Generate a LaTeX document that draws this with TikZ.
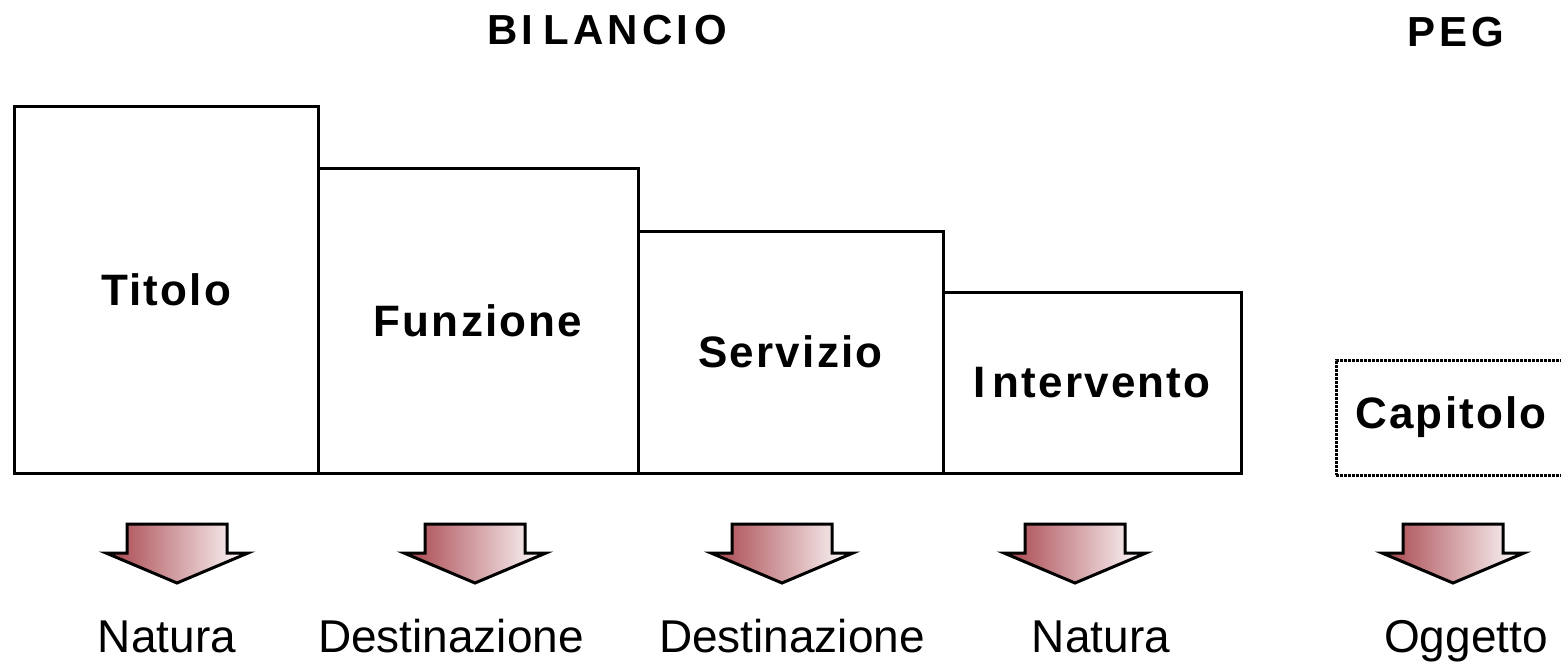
\documentclass[tikz,border=0pt]{standalone}
\usepackage{fontspec}
\setmainfont{Liberation Sans}
\newfontfamily\spacedfont[LetterSpace=5]{Liberation Sans}
\newfontfamily\headfont[LetterSpace=10]{Liberation Sans}
\usepackage{tikz}
\usepackage{xcolor}
\usetikzlibrary{positioning}
\definecolor{arrowred}{HTML}{A6424A}
\definecolor{arrowpink}{HTML}{D8BCC0}

\begin{document}
\begin{tikzpicture}[x=1pt,y=-1pt,
  voce/.style={draw,line width=3pt,inner sep=0pt,outer sep=0pt,anchor=south west,
    font=\fontsize{44}{46}\selectfont\spacedfont\bfseries},
  intestazione/.style={anchor=base,font=\fontsize{42}{46}\selectfont\headfont\bfseries},
  freccia/.style={draw,line width=3pt,line join=miter,
    left color=arrowred,middle color=arrowpink,right color=white},
  etichetta/.style={anchor=base,font=\fontsize{46}{50}\selectfont}]
\clip (0,0) rectangle (1561,664);
% headings
\node[intestazione] (bilancio) at (607,44) {BI\kern10pt LANCI\kern6pt O};
\node[intestazione] (peg) at (1456,46) {PEG};
% the four levels of the budget
\node[voce,minimum width=304,minimum height=367] (titolo) at (14,473) {Titolo};
\node[voce,minimum width=320,minimum height=305] (funzione) at (titolo.south east) {Funzione};
\node[voce,minimum width=305,minimum height=242] (servizio) at (funzione.south east) {Servizio};
\node[voce,minimum width=298,minimum height=181] (intervento) at (servizio.south east) {I\kern7pt ntervento};
\node[voce,densely dotted,minimum width=230,minimum height=115] (capitolo) at (1336,475) {Capitolo};
% arrows
\foreach \xa in {177,475,782,1075,1453}
  {\draw[freccia] ({\xa-50},524) -- ++(100,0) -- ++(0,29) -- ++(21,0)
     -- (\xa,583) -- ({\xa-71},553) -- ++(21,0) -- cycle;}
% classification
\foreach \xt/\testo/\nome in {167/Natura/natura1,451/Destinazione/dest1,
    792/Destinazione/dest2,1101/Natura/natura2,1466/Oggetto/oggetto}
  {\node[etichetta] (\nome) at (\xt,652) {\testo};}
\end{tikzpicture}
\end{document}
